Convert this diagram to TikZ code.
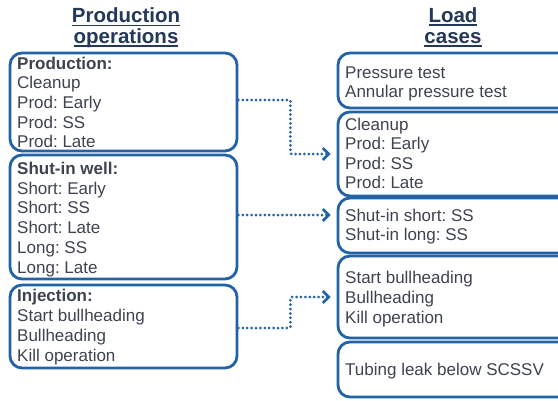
\documentclass[tikz,border=0pt]{standalone}
\usepackage{fontspec}
\setmainfont{Liberation Sans}
\usetikzlibrary{arrows.meta}
\frenchspacing
\definecolor{boxblue}{HTML}{2262A6}
\definecolor{bodytext}{HTML}{3E4350}
\definecolor{headtext}{HTML}{24385A}
\tikzset{
  opbox/.style={draw=boxblue, line width=2.8pt, rounded corners=12pt, fill=white},
  txt/.style={anchor=base west, inner sep=0pt, text=bodytext,
    font=\fontsize{17}{20}\selectfont},
  head/.style={anchor=base, inner sep=0pt, text=headtext,
    font=\fontsize{20.5}{22}\selectfont\bfseries},
  link/.style={draw=boxblue, line width=3pt, line cap=round,
    dash pattern=on 0pt off 4.4pt, rounded corners=1pt,
    -{Straight Barb[length=6pt,width=12pt,line width=2.6pt]}, shorten >=6pt},
}
% underlined heading word: a rule of the word's width just under its baseline
\newcommand{\headline}[1]{\setbox0\hbox{#1}\rlap{\rule[-3.5pt]{\wd0}{1.6pt}}\box0}
\begin{document}
\begin{tikzpicture}[x=1pt,y=-1pt]
\clip (0,0) rectangle (558,400);
\fill[white] (0,0) rectangle (558,400);

% column headings
\node[head] (h1) at (126,22.7) {\headline{Production}};
\node[head] (h2) at (126,43) {\headline{operations}};
\node[head] (h3) at (453,22) {\headline{Load}};
\node[head] (h4) at (453,43) {\headline{cases}};

% production operations
\node[opbox, minimum width=227pt, minimum height=98pt] (L1) at (123.5,102) {};
\node[opbox, minimum width=227pt, minimum height=124pt] (L2) at (123.5,217) {};
\node[opbox, minimum width=227pt, minimum height=83pt] (L3) at (123.5,326.5) {};

% load cases
\node[opbox, minimum width=240pt, minimum height=55pt] (R1) at (458,80.5) {};
\node[opbox, minimum width=240pt, minimum height=84pt] (R2) at (458,154) {};
\node[opbox, minimum width=240pt, minimum height=55pt] (R3) at (458,225.5) {};
\node[opbox, minimum width=240pt, minimum height=82pt] (R4) at (458,297) {};
\node[opbox, minimum width=240pt, minimum height=55pt] (R5) at (458,369.5) {};

% box contents
\node[txt] (L1h) at (17,69) {\bfseries Production:};
\foreach \t [count=\i from 0] in {Cleanup, Prod: Early, Prod: SS, Prod: Late}
  \node[txt] (L1t\i) at (17,88.7+19.7*\i) {\t};

\node[txt] (L2h) at (17,174.3) {\bfseries Shut-in well:};
\foreach \t [count=\i from 0] in {Short: Early, Short: SS, Short: Late, Long: SS, Long: Late}
  \node[txt] (L2t\i) at (17,194.1+19.8*\i) {\t};

\node[txt] (L3h) at (17,301.7) {\bfseries Injection:};
\foreach \t [count=\i from 0] in {Start bullheading, Bullheading, Kill operation}
  \node[txt] (L3t\i) at (17,321.5+19.9*\i) {\t};

\foreach \t [count=\i from 0] in {Pressure test, Annular pressure test}
  \node[txt] (R1t\i) at (345,78+19.6*\i) {\t};
\foreach \t [count=\i from 0] in {Cleanup, Prod: Early, Prod: SS, Prod: Late}
  \node[txt] (R2t\i) at (345,130+19.5*\i) {\t};
\foreach \t [count=\i from 0] in {Shut-in short: SS, Shut-in long: SS}
  \node[txt] (R3t\i) at (345,221.5+19.3*\i) {\t};
\foreach \t [count=\i from 0] in {Start bullheading, Bullheading, Kill operation}
  \node[txt] (R4t\i) at (345,283.4+19.9*\i) {\t};
\node[txt] (R5t0) at (345,375) {Tubing leak below SCSSV};

% connectors
\draw[link] ([yshift=2pt]L1.east) -- ++(52,0) |- (R2.west);
\draw[link] ([yshift=2pt]L2.east) -- ([yshift=2pt]L2.east -| R3.west);
\draw[link] ([yshift=-1.5pt]L3.east) -- ++(52,0) |- (R4.west);
\end{tikzpicture}
\end{document}
